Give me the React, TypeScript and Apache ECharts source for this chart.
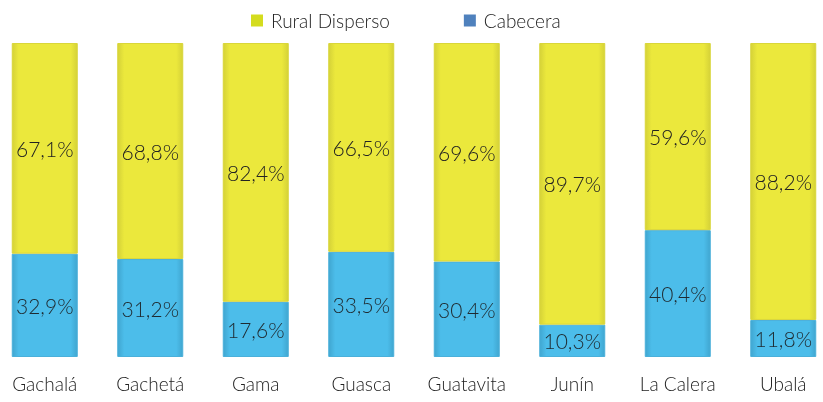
import React, { useEffect, useRef } from "react";
import * as echarts from "echarts";

const categories = ["Gachalá", "Gachetá", "Gama", "Guasca", "Guatavita", "Junín", "La Calera", "Ubalá"];
const cabecera = [32.9, 31.2, 17.6, 33.5, 30.4, 10.3, 40.4, 11.8];
const ruralDisperso = [67.1, 68.8, 82.4, 66.5, 69.6, 89.7, 59.6, 88.2];

const FONT = "Lato";

function bevel(main: string, edge: string) {
  return new echarts.graphic.LinearGradient(0, 0, 1, 0, [
    { offset: 0, color: edge },
    { offset: 0.1, color: main },
    { offset: 0.9, color: main },
    { offset: 1, color: edge },
  ]);
}

const fmt = (p: any) => p.value.toFixed(1).replace(".", ",") + "%";

export default function App() {
  const ref = useRef<HTMLDivElement>(null);
  useEffect(() => {
    const chart = echarts.init(ref.current!, null, { renderer: "svg" });
    chart.setOption({
      animation: false,
      textStyle: { fontFamily: FONT },
      legend: {
        left: 254,
        top: 6,
        itemWidth: 12,
        itemHeight: 12,
        itemGap: 74,
        textStyle: { fontFamily: FONT, fontSize: 19, color: "#222", fontWeight: 300, padding: [0, 0, 0, 3] },
        data: [
          { name: "Rural Disperso", icon: "rect", itemStyle: { color: "#D4DC1E", borderWidth: 0 } },
          { name: "Cabecera", icon: "rect", itemStyle: { color: "#4F81BD", borderWidth: 0 } },
        ],
      },
      grid: { left: 0, right: 0, top: 43, bottom: 45 },
      xAxis: {
        type: "category",
        data: categories,
        axisLine: { show: false },
        axisTick: { show: false },
        axisLabel: { fontFamily: FONT, fontSize: 19, color: "#222", margin: 17, fontWeight: 300 },
      },
      yAxis: { type: "value", min: 0, max: 100, show: false, splitLine: { show: false } },
      series: [
        {
          name: "Cabecera",
          type: "bar",
          stack: "t",
          barWidth: 66,
          data: cabecera,
          itemStyle: { color: bevel("#4CBDEA", "#40A6D0"), borderColor: "#4AB0DA", borderWidth: 1 },
          label: { show: true, position: "inside", formatter: fmt, fontFamily: FONT, fontSize: 21, color: "#1f2a30", fontWeight: 300 },
        },
        {
          name: "Rural Disperso",
          type: "bar",
          stack: "t",
          barWidth: 66,
          data: ruralDisperso,
          itemStyle: { color: bevel("#EBE83C", "#D5D238"), borderColor: "#D9D63A", borderWidth: 1 },
          label: { show: true, position: "inside", formatter: fmt, fontFamily: FONT, fontSize: 21, color: "#222", fontWeight: 300 },
        },
      ],
    });
    return () => chart.dispose();
  }, []);
  return (
    <div style={{ position: "fixed", left: 0, top: 0, width: 823, height: 402, overflow: "hidden" }}>
      <div ref={ref} style={{ position: "absolute", left: -8, top: 0, width: 844, height: 402 }} />
    </div>
  );
}
